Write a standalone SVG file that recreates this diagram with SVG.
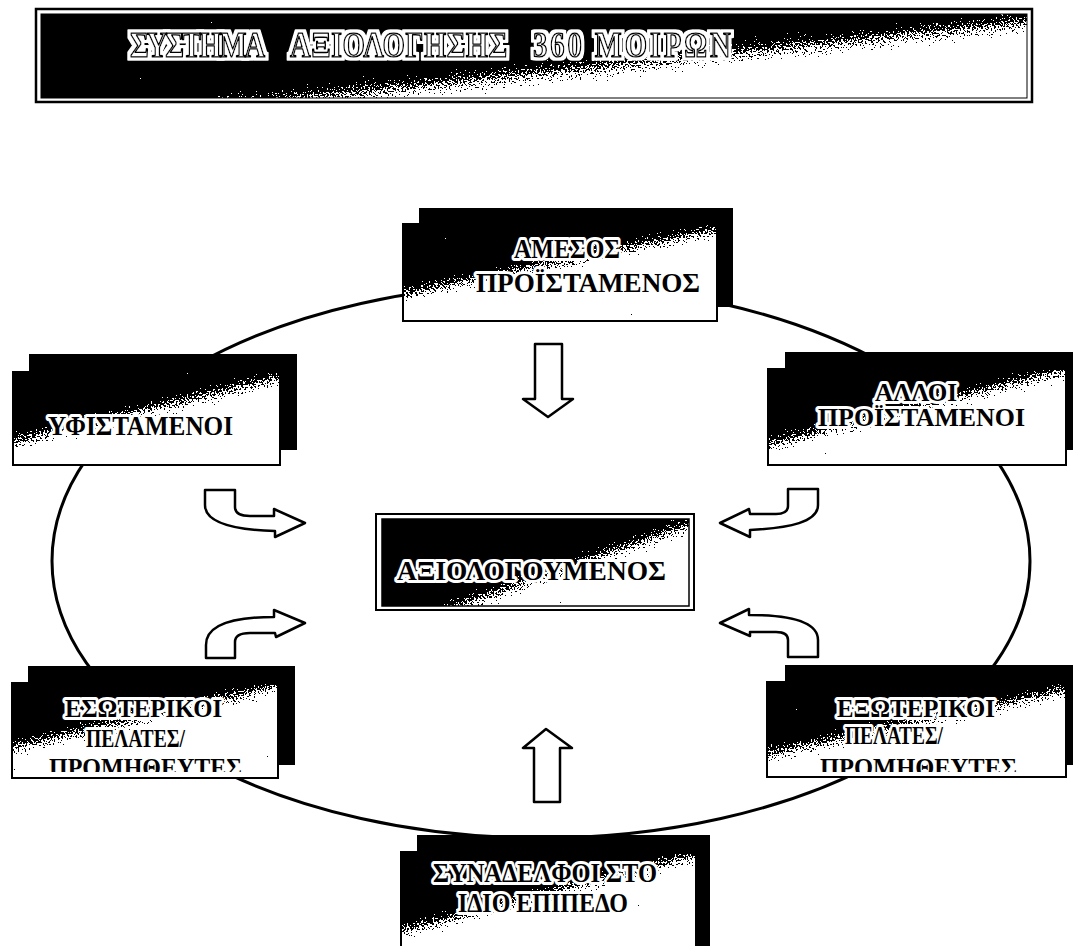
<svg xmlns="http://www.w3.org/2000/svg" width="1073" height="946" viewBox="0 0 1073 946">
  <defs>
    <!-- black-to-white diagonal wash, one per card, set across each card's edge line -->
    <linearGradient id="w-title" gradientUnits="userSpaceOnUse" x1="661.4" y1="35.6" x2="666.6" y2="85.4">
      <stop offset="0" stop-color="#000"/><stop offset="0.15" stop-color="#000"/><stop offset="0.85" stop-color="#fff"/><stop offset="1" stop-color="#fff"/>
    </linearGradient>
    <linearGradient id="w-top" gradientUnits="userSpaceOnUse" x1="556" y1="242.4" x2="564" y2="281.6">
      <stop offset="0" stop-color="#000"/><stop offset="0.15" stop-color="#000"/><stop offset="0.85" stop-color="#fff"/><stop offset="1" stop-color="#fff"/>
    </linearGradient>
    <linearGradient id="w-left" gradientUnits="userSpaceOnUse" x1="141.8" y1="390.6" x2="151.2" y2="429.4">
      <stop offset="0" stop-color="#000"/><stop offset="0.15" stop-color="#000"/><stop offset="0.85" stop-color="#fff"/><stop offset="1" stop-color="#fff"/>
    </linearGradient>
    <linearGradient id="w-right" gradientUnits="userSpaceOnUse" x1="913.1" y1="387.6" x2="922.9" y2="426.4">
      <stop offset="0" stop-color="#000"/><stop offset="0.15" stop-color="#000"/><stop offset="0.85" stop-color="#fff"/><stop offset="1" stop-color="#fff"/>
    </linearGradient>
    <linearGradient id="w-center" gradientUnits="userSpaceOnUse" x1="568.4" y1="546.1" x2="581.6" y2="583.9">
      <stop offset="0" stop-color="#000"/><stop offset="0.15" stop-color="#000"/><stop offset="0.85" stop-color="#fff"/><stop offset="1" stop-color="#fff"/>
    </linearGradient>
    <linearGradient id="w-bl" gradientUnits="userSpaceOnUse" x1="140.5" y1="697.5" x2="149.5" y2="736.5">
      <stop offset="0" stop-color="#000"/><stop offset="0.15" stop-color="#000"/><stop offset="0.85" stop-color="#fff"/><stop offset="1" stop-color="#fff"/>
    </linearGradient>
    <linearGradient id="w-br" gradientUnits="userSpaceOnUse" x1="912.8" y1="702.5" x2="921.2" y2="741.5">
      <stop offset="0" stop-color="#000"/><stop offset="0.15" stop-color="#000"/><stop offset="0.85" stop-color="#fff"/><stop offset="1" stop-color="#fff"/>
    </linearGradient>
    <linearGradient id="w-bottom" gradientUnits="userSpaceOnUse" x1="544" y1="873.6" x2="554" y2="912.4">
      <stop offset="0" stop-color="#000"/><stop offset="0.15" stop-color="#000"/><stop offset="0.85" stop-color="#fff"/><stop offset="1" stop-color="#fff"/>
    </linearGradient>

    <!-- turns the grey band of a wash into a scattered black/white grain -->
    <filter id="grain" x="0" y="0" width="1" height="1" color-interpolation-filters="sRGB">
      <feTurbulence type="fractalNoise" baseFrequency="0.55" numOctaves="2" seed="7" result="noise"/>
      <feColorMatrix in="noise" type="matrix" values="1 0 0 0 0  1 0 0 0 0  1 0 0 0 0  0 0 0 0 1" result="gray"/>
      <feComposite in="SourceGraphic" in2="gray" operator="arithmetic" k1="0" k2="1" k3="1.3" k4="-0.65" result="mix"/>
      <feColorMatrix in="mix" type="matrix" values="1 0 0 0 0  1 0 0 0 0  1 0 0 0 0  0 0 0 0 1" result="solid"/>
      <feComponentTransfer in="solid" result="bw">
        <feFuncR type="discrete" tableValues="0 1"/>
        <feFuncG type="discrete" tableValues="0 1"/>
        <feFuncB type="discrete" tableValues="0 1"/>
      </feComponentTransfer>
      <feComposite in="bw" in2="SourceGraphic" operator="in"/>
    </filter>

    <!-- white rim around the outlined banner lettering -->
    <filter id="rim" x="-5%" y="-25%" width="110%" height="150%">
      <feMorphology in="SourceAlpha" operator="dilate" radius="2.5" result="fat"/>
      <feFlood flood-color="#fff"/>
      <feComposite in2="fat" operator="in" result="ring"/>
      <feMerge><feMergeNode in="ring"/><feMergeNode in="SourceGraphic"/></feMerge>
    </filter>

    <clipPath id="clip-bl"><rect x="12" y="683" width="266" height="89"/></clipPath>
    <clipPath id="clip-br"><rect x="767" y="682" width="299" height="90"/></clipPath>
  </defs>
  <style>
    .shadow { fill: #000; }
    .frame { fill: none; stroke: #000; stroke-width: 2; }
    .lbl { font-family: "Liberation Serif", "Times New Roman", serif; font-weight: bold; font-size: 27px;
           fill: #000; stroke: #fff; stroke-width: 6; stroke-linejoin: round; paint-order: stroke; }
    .lbl.sm { font-size: 25px; }
    .ttl { font-family: "Liberation Serif", "Times New Roman", serif; font-weight: bold; font-size: 35px;
           fill: #fff; stroke: #000; stroke-width: 1.6; stroke-linejoin: round; }
    .ring { fill: none; stroke: #000; stroke-width: 3; }
    .arrow { fill: #fff; stroke: #000; stroke-width: 2.5; stroke-linejoin: round; }
  </style>

  <rect width="1073" height="946" fill="#fff"/>

  <!-- header banner -->
  <g id="title">
    <rect x="36" y="9" width="996" height="93" fill="#fff" stroke="#000" stroke-width="2.5"/>
    <rect x="41" y="14" width="986" height="84" fill="url(#w-title)" filter="url(#grain)"/>
    <rect x="41" y="14" width="986" height="84" fill="none" stroke="#000" stroke-width="1"/>
    <g filter="url(#rim)">
      <text class="ttl" y="57" transform="scale(0.82 1)"><tspan x="158.5" letter-spacing="-2.5">ΣΥΣΤΗΜΑ</tspan><tspan x="353.7" letter-spacing="0.5">ΑΞΙΟΛΟΓΗΣΗΣ</tspan><tspan x="650" letter-spacing="3.5">360 ΜΟΙΡΩΝ</tspan></text>
    </g>
  </g>

  <!-- the evaluation ring and the feedback arrows -->
  <g id="connectors">
    <ellipse class="ring" cx="541" cy="561" rx="489" ry="277"/>
    <!-- from above -->
    <path class="arrow" d="M535 344 L562 344 L562 399 L573 399 L548 417 L523 399 L535 399 Z"/>
    <!-- from below -->
    <path class="arrow" d="M534 802 L560 802 L560 748 L572 748 L546 729 L523 748 L534 748 Z"/>
    <!-- upper left, hooks down then right -->
    <path class="arrow" d="M205 490 L235 490 L235 507 Q235 516 250 516 L274 516 L274 509 L305 523 L275 537 L275 531 C240 530 205 525 205 505 Z"/>
    <!-- lower left, hooks up then right -->
    <path class="arrow" d="M206 658 L235 658 L235 642 Q235 633 250 633 L275 633 L276 637 L305 623 L274 610 L274 617 C240 617 206 622 206 645 Z"/>
    <!-- upper right, hooks down then left -->
    <path class="arrow" d="M818 489 L788 489 L788 506 Q788 514 776 514 L750 514 L749 509 L720 523 L750 537 L750 530 C790 528 818 522 818 505 Z"/>
    <!-- lower right, hooks up then left -->
    <path class="arrow" d="M818 657 L788 657 L788 640 Q788 632 776 632 L750 632 L750 636 L720 623 L749 609 L749 615 C790 615 818 622 818 640 Z"/>
  </g>

  <g id="node-direct-manager">
    <rect class="shadow" x="419" y="208" width="314" height="99"/>
    <rect x="403" y="224" width="314" height="97" fill="url(#w-top)" filter="url(#grain)"/>
    <rect class="frame" x="403" y="224" width="314" height="97"/>
    <text class="lbl" x="514" y="258" textLength="106" lengthAdjust="spacingAndGlyphs">ΑΜΕΣΟΣ</text>
    <text class="lbl" x="476" y="292" textLength="224" lengthAdjust="spacingAndGlyphs">ΠΡΟΪΣΤΑΜΕΝΟΣ</text>
  </g>

  <g id="node-subordinates">
    <rect class="shadow" x="29" y="354" width="268" height="96"/>
    <rect x="13" y="372" width="267" height="93" fill="url(#w-left)" filter="url(#grain)"/>
    <rect class="frame" x="13" y="372" width="267" height="93"/>
    <text class="lbl" x="48" y="435" textLength="185" lengthAdjust="spacingAndGlyphs">ΥΦΙΣΤΑΜΕΝΟΙ</text>
  </g>

  <g id="node-other-managers">
    <rect class="shadow" x="785" y="352" width="300" height="98"/>
    <rect x="768" y="369" width="298" height="96" fill="url(#w-right)" filter="url(#grain)"/>
    <rect class="frame" x="768" y="369" width="298" height="96"/>
    <text class="lbl sm" x="875" y="401" textLength="82" lengthAdjust="spacingAndGlyphs">ΑΛΛΟΙ</text>
    <text class="lbl sm" x="818" y="426" textLength="207" lengthAdjust="spacingAndGlyphs">ΠΡΟΪΣΤΑΜΕΝΟΙ</text>
  </g>

  <g id="node-appraisee">
    <rect x="376" y="514" width="318" height="96" fill="#fff" stroke="#000" stroke-width="2"/>
    <rect x="382" y="519" width="307" height="87" fill="url(#w-center)" filter="url(#grain)"/>
    <rect x="382" y="519" width="307" height="87" fill="none" stroke="#000" stroke-width="1.5"/>
    <text class="lbl" x="397" y="580" textLength="269" lengthAdjust="spacingAndGlyphs">ΑΞΙΟΛΟΓΟΥΜΕΝΟΣ</text>
  </g>

  <g id="node-internal-clients">
    <rect class="shadow" x="28" y="666" width="267" height="99"/>
    <rect x="12" y="683" width="266" height="95" fill="url(#w-bl)" filter="url(#grain)"/>
    <rect class="frame" x="12" y="683" width="266" height="95"/>
    <text class="lbl sm" x="65" y="717" textLength="157" lengthAdjust="spacingAndGlyphs">ΕΣΩΤΕΡΙΚΟΙ</text>
    <text class="lbl sm" x="86" y="747" textLength="99" lengthAdjust="spacingAndGlyphs">ΠΕΛΑΤΕΣ/</text>
    <text class="lbl sm" x="49" y="776" textLength="193" lengthAdjust="spacingAndGlyphs" clip-path="url(#clip-bl)">ΠΡΟΜΗΘΕΥΤΕΣ</text>
  </g>

  <g id="node-external-clients">
    <rect class="shadow" x="785" y="665" width="300" height="100"/>
    <rect x="767" y="682" width="299" height="95" fill="url(#w-br)" filter="url(#grain)"/>
    <rect class="frame" x="767" y="682" width="299" height="95"/>
    <text class="lbl sm" x="837" y="717" textLength="158" lengthAdjust="spacingAndGlyphs">ΕΞΩΤΕΡΙΚΟΙ</text>
    <text class="lbl sm" x="845" y="744" textLength="98" lengthAdjust="spacingAndGlyphs">ΠΕΛΑΤΕΣ/</text>
    <text class="lbl sm" x="820" y="776" textLength="197" lengthAdjust="spacingAndGlyphs" clip-path="url(#clip-br)">ΠΡΟΜΗΘΕΥΤΕΣ</text>
  </g>

  <g id="node-peers">
    <rect class="shadow" x="417" y="835" width="293" height="120"/>
    <rect x="401" y="852" width="295" height="100" fill="url(#w-bottom)" filter="url(#grain)"/>
    <rect class="frame" x="401" y="852" width="295" height="100"/>
    <text class="lbl" x="433" y="882" textLength="224" lengthAdjust="spacingAndGlyphs">ΣΥΝΑΔΕΛΦΟΙ ΣΤΟ</text>
    <text class="lbl" x="458" y="912" textLength="170" lengthAdjust="spacingAndGlyphs">ΙΔΙΟ ΕΠΙΠΕΔΟ</text>
  </g>
</svg>
